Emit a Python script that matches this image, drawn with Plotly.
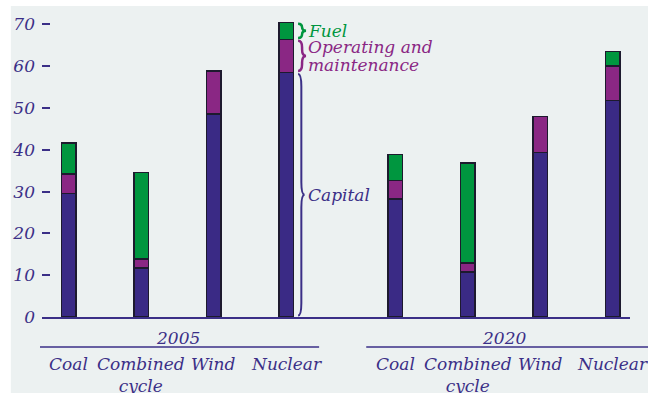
import plotly.graph_objects as go

# ---- data ----
categories = ["Coal", "Combined<br>cycle", "Wind", "Nuclear"]
years = ["2005", "2020"]
capital_2005 = [29.6, 11.7, 48.5, 58.5]
om_2005 = [4.6, 2.2, 10.3, 7.9]
fuel_2005 = [7.4, 20.7, 0, 4.1]
capital_2020 = [28.2, 10.8, 39.4, 51.8]
om_2020 = [4.5, 2.1, 8.6, 8.2]
fuel_2020 = [6.2, 23.9, 0, 3.5]
y_ticks = [0, 10, 20, 30, 40, 50, 60, 70]

# ---- style ----
INDIGO = "#3B2F87"
C_CAP = "#3A2A85"
C_OM = "#8A2784"
C_FUEL = "#00963F"
BG = "#ECF1F1"
FONT = "DejaVu Serif"
FS = 17

n = len(categories)
group_step = n + 0.5
xpos = [[g * group_step + i for i in range(n)] for g in range(len(years))]
X = xpos[0] + xpos[1]
cap = capital_2005 + capital_2020
om = om_2005 + om_2020
fuel = fuel_2005 + fuel_2020

XMIN, XMAX = -0.372, 7.738
YMIN, YMAX = 0, 72

fig = go.Figure()
for name, vals, col in [("Capital", cap, C_CAP), ("Operating and maintenance", om, C_OM), ("Fuel", fuel, C_FUEL)]:
    fig.add_trace(go.Bar(
        x=X, y=vals, name=name, width=0.2,
        marker=dict(color=col, line=dict(color="#1d1a2e", width=1.5)),
        showlegend=False, hoverinfo="skip",
    ))


def px(xd):
    return (xd - XMIN) / (XMAX - XMIN)


shapes = []
# background panel (white strips at top/left)
shapes.append(dict(type="rect", xref="paper", yref="paper", x0=-0.053, x1=1.05, y0=-0.3, y1=1.033,
                   fillcolor=BG, line=dict(width=0), layer="below"))

annotations = []
# group labels + rule lines
for g, yr in enumerate(years):
    xs = xpos[g]
    center = (xs[0] + xs[-1]) / 2
    annotations.append(dict(x=center, xref="x", y=-0.07, yref="paper", text=yr, showarrow=False,
                            xanchor="center", yanchor="middle",
                            font=dict(family=FONT, size=FS, color=INDIGO, style="italic")))
    shapes.append(dict(type="line", xref="paper", yref="paper",
                       x0=px(center - 1.9), x1=px(center + 2.5 if g == 1 else center + 1.95),
                       y0=-0.0997, y1=-0.0997, line=dict(color=INDIGO, width=1.5)))
    for i, c in enumerate(categories):
        annotations.append(dict(x=xs[i], xref="x", y=-0.115, yref="paper", text=c, showarrow=False,
                                xanchor="center", yanchor="top",
                                font=dict(family=FONT, size=FS, color=INDIGO, style="italic")))


def brace(x0, y0, y1, w, q):
    xm = x0 + w / 2
    xt = x0 + w
    ym = (y0 + y1) / 2
    return (f"M {x0},{y1} Q {xm},{y1} {xm},{y1 - q} L {xm},{ym + q} "
            f"Q {xm},{ym} {xt},{ym} Q {xm},{ym} {xm},{ym - q} "
            f"L {xm},{y0 + q} Q {xm},{y0} {x0},{y0}")


# braces on the 2005 nuclear bar
k = n - 1
xn = xpos[0][k]
b_cap = capital_2005[k]
b_om = b_cap + om_2005[k]
b_fuel = b_om + fuel_2005[k]
segs = [
    (["Fuel"], b_om, b_fuel, C_FUEL, 0.11, 0.9, 2.5),
    (["Operating and", "maintenance"], b_cap, b_om, C_OM, 0.11, 1.6, 2.5),
    (["Capital"], 0, b_cap, INDIGO, 0.09, 3.0, 2.0),
]
for lines, lo, hi, col, w, q, lw in segs:
    shapes.append(dict(type="path", xref="x", yref="y",
                       path=brace(xn + 0.16, lo + 0.35, hi - 0.35, w, q),
                       line=dict(color=col, width=lw)))
    mid = (lo + hi) / 2
    for j, t in enumerate(lines):
        off = (len(lines) - 1) / 2 - j
        annotations.append(dict(x=xn + 0.265, xref="x", y=mid + off * 4.3, yref="y", text=t,
                                showarrow=False, xanchor="left", yanchor="middle", align="left",
                                font=dict(family=FONT, size=FS, color=col, style="italic")))

fig.update_layout(
    width=648, height=393,
    margin=dict(l=42, r=18, t=16, b=76, autoexpand=False),
    paper_bgcolor="white", plot_bgcolor="rgba(0,0,0,0)",
    barmode="stack", showlegend=False,
    shapes=shapes, annotations=annotations,
    xaxis=dict(range=[XMIN, XMAX], showgrid=False, zeroline=False, showticklabels=False,
               ticks="", showline=True, linecolor=INDIGO, linewidth=2),
    yaxis=dict(range=[YMIN, YMAX], tickvals=y_ticks, showgrid=False, zeroline=False,
               ticks="inside", ticklen=8, tickwidth=1.5, tickcolor=INDIGO,
               ticklabelstandoff=6,
               tickfont=dict(family=FONT, size=FS, color=INDIGO, style="italic"),
               showline=False),
)

fig.write_html(
    "out.html",
    config={"displayModeBar": False},
    post_script="document.body.style.margin='0';document.body.style.overflow='hidden';",
)
